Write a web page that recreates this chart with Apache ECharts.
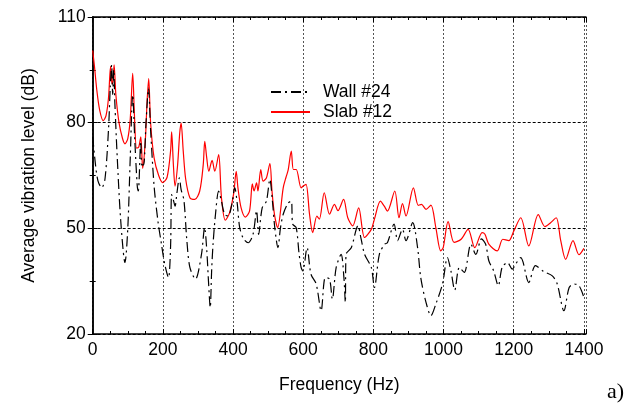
<!DOCTYPE html>
<html>
<head>
<meta charset="utf-8">
<script src="https://cdn.jsdelivr.net/npm/echarts@6/dist/echarts.min.js"></script>
<style>html,body{margin:0;padding:0;background:#fff}#c{width:641px;height:407px}</style>
</head>
<body>
<div id="c"></div>
<script>
var xTickLabels = [0, 200, 400, 600, 800, 1000, 1200, 1400];
var yTickLabels = [20, 50, 80, 110];

var wallFreq = [0,8,15,25.6,35,45,50,54,57,60,63,70,80,92,100,107,114,120,127,130,137,140,145,152,159,165,175,186,196,205,216,222,225,230,234.7,240,247,252,260,268,277,293,310,319,325,330,335,339,343,350,359,367,376,386,395,405,412,419,430,443,457,467,473,483,495,505,512,519,528,535,543,557,566,570,580,588,594,599,611,622,637,651,663,675,683,694,708,716,720,722,737,756,765,775,794,803,817,832,840,859,869,883,893,912,926,935,950,964,978,997,1011,1021,1032,1045,1059,1078,1092,1108,1120,1129,1143,1156,1167,1182,1196,1205,1220,1243,1262,1286,1310,1324,1343,1358,1372,1386,1400];
var wallLevel = [76,68,63.5,61.5,64,78,90,96.4,88,95,86,70,52,40.3,50,70,87.9,75,62,60.6,74.7,68,68,80,89.8,78,62,52,45.5,40,36,45,59.6,58,56.3,60,64.3,61,58,47,38.9,35.6,42.6,50.2,44,35,27.5,38,45.5,54,60.6,57.7,54,53.5,56,61.5,57,50.2,47,45.9,48.3,55,48.3,55.8,57.7,63.9,58,50.2,44.5,50,54,57.2,57.7,51.2,50.2,43,38.9,37.9,44.5,37,34.2,26.6,36,35.6,29.9,38.9,42.6,36,29,42.6,44.5,50.7,47,42.6,38.9,33.2,42.6,45.5,45.9,51.2,46.5,49.7,46.5,51.6,44.5,36,29,25.2,28.5,34.2,41.7,37.9,32.5,38.9,37.5,45.5,42.6,47,45.5,40.8,37.9,33.7,38.9,40.3,38.4,39.8,41.7,34.6,39.4,37.7,36.5,34.2,26.6,33.2,34.2,33.7,30.4];

var slabFreq = [0,5,12,20,30,38,45,51,55,58,61,66,75,85,92,100,107,114,119,125,131,137,142.5,150,155,159.6,165,175,188,199.6,212,222,225,230,234.7,242,248,252,258,265,277,291,305,315,319.4,325,331,340.3,348,359,367,378,390,402,409,414,423,435,447,455,460,467,471,479,485.6,495,505,511,518,527,543,551,557,566,572,580,594,600,608,618,627,639,646,660,675,689,699,715,727,741,758,775,794,803,820,831,840,861,873,883,893,914,928,937,950,964,978,992,999,1013,1030,1050,1070,1089,1110,1118,1129,1153,1169,1186,1200,1220,1243,1270,1289,1305,1321,1334,1348,1369,1386,1400];
var slabLevel = [100.5,96,89,83.5,80.6,82,87,96,91,92,96.4,88,80,75.5,74,75.5,81,94,82,72.8,73,76,67,75,86,92.5,80,70,65,63,64.5,72,77.4,68,62,68,77,79.9,72,64,58.7,58.2,60.6,68,74.7,70,66.2,69.3,66.2,70.9,58.7,52.3,54.4,60,66.2,61.5,55.8,53.2,54.9,62.6,60.6,62.9,60.6,66.7,63.4,64.3,68.4,60.6,54,50.2,61.5,64.5,66.5,71.9,66.7,66.7,61.5,62,62.5,54,48.8,53.5,52.6,60.1,54,56.8,55,58.2,53,50.7,55.8,47.4,49.7,52.6,57.7,56.3,54.9,60.6,53,57,53.5,61.5,56.5,56.8,55.4,56.6,50.2,43.6,44.5,51.9,46,46.9,49.7,44.5,48.8,48.3,45.5,43.6,46.9,46.5,49.2,53,45,53.9,50.5,51.6,53,46.5,41.2,46.5,42.5,44.3];

function pairs(xs, ys) { return xs.map(function (x, i) { return [x, ys[i]]; }); }

var FONT = '"Liberation Sans", Arial, sans-serif';
var FS = 17.5;
var chart = echarts.init(document.getElementById('c'), null, {renderer: 'canvas'});

var xBase = {
  type: 'value', min: 0, max: 1406, interval: 200,
  axisLine: {show: true, lineStyle: {color: '#000', width: 1.5}},
  axisTick: {show: true, inside: true, length: 5, lineStyle: {color: '#000'}},
  minorTick: {show: true, splitNumber: 4, length: 3, lineStyle: {color: '#000'}},
  splitLine: {show: false}
};
var yBase = {
  type: 'value', min: 20, max: 110, interval: 30,
  axisLine: {show: true, lineStyle: {color: '#000', width: 1.5}},
  axisTick: {show: true, inside: true, length: 5, lineStyle: {color: '#000'}},
  minorTick: {show: true, splitNumber: 2, length: 3, lineStyle: {color: '#000'}},
  splitLine: {show: false}
};

chart.setOption({
  animation: false,
  backgroundColor: '#fff',
  grid: {left: 92.7, right: 55, top: 17, bottom: 73, containLabel: false},
  xAxis: [
    Object.assign({}, xBase, {
      position: 'bottom',
      name: 'Frequency (Hz)', nameLocation: 'middle', nameGap: 42,
      nameTextStyle: {fontFamily: FONT, fontSize: FS, color: '#000'},
      axisLabel: {show: true, margin: 7, fontFamily: FONT, fontSize: FS, color: '#000',
        formatter: function (v) { return xTickLabels.indexOf(v) >= 0 ? String(v) : ''; }},
      splitLine: {show: true, lineStyle: {color: '#555', type: [2, 2], width: 1}}
    }),
    Object.assign({}, xBase, {position: 'top', axisLabel: {show: false}})
  ],
  yAxis: [
    Object.assign({}, yBase, {
      position: 'left',
      name: 'Average vibration level (dB)', nameLocation: 'middle', nameGap: 55,
      nameTextStyle: {fontFamily: FONT, fontSize: FS, color: '#000'},
      axisLabel: {show: true, margin: 7, fontFamily: FONT, fontSize: FS, color: '#000',
        formatter: function (v) { return yTickLabels.indexOf(v) >= 0 ? String(v) : ''; }},
      splitLine: {show: true, lineStyle: {color: '#000', type: [3, 2], width: 1}}
    }),
    Object.assign({}, yBase, {position: 'right', axisLabel: {show: false}})
  ],
  legend: {
    left: 265, top: 77, orient: 'vertical',
    itemWidth: 39, itemHeight: 14, itemGap: 0,
    itemStyle: {opacity: 0},
    textStyle: {fontFamily: FONT, fontSize: FS, color: '#000', lineHeight: 20, padding: [0, 0, 0, 8]},
    data: ['Wall #24', 'Slab #12']
  },
  series: [
    {
      name: 'Wall #24', type: 'line', data: pairs(wallFreq, wallLevel),
      showSymbol: false, symbol: 'none', smooth: 0.3,
      lineStyle: {color: '#000', width: 1.2, type: [10, 4, 2, 4]},
      itemStyle: {color: '#000'}, z: 3
    },
    {
      name: 'Slab #12', type: 'line', data: pairs(slabFreq, slabLevel),
      showSymbol: false, symbol: 'none', smooth: 0.3,
      lineStyle: {color: '#ff0000', width: 1.2},
      itemStyle: {color: '#ff0000'}, z: 2
    }
  ],
  graphic: [{
    type: 'text', left: 607, top: 381,
    style: {text: 'a)', font: '22px "Liberation Serif", "Times New Roman", serif', fill: '#000'}
  }]
});
</script>
</body>
</html>
